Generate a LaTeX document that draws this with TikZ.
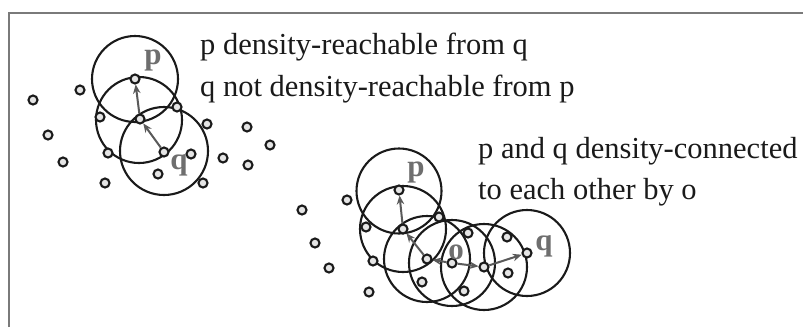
\documentclass[tikz,border=0pt]{standalone}
\usepackage{fontspec}
\setmainfont{Liberation Serif}
\usetikzlibrary{arrows.meta}
\definecolor{framegray}{HTML}{7A7A7A}
\definecolor{labgray}{HTML}{6E6E6E}
\definecolor{arrgray}{HTML}{5A5A5A}
\definecolor{ink}{HTML}{1A1A1A}
\begin{document}
\begin{tikzpicture}[x=1pt,y=-1pt,
  pt/.style={circle,draw=ink,line width=2.1pt,fill=white!80!gray,inner sep=0pt,minimum size=9pt},
  hood/.style={circle,draw=ink,line width=2.1pt,inner sep=0pt,minimum size=86pt},
  arr/.style={draw=arrgray,line width=2pt,-{Stealth[length=9pt,width=7.5pt]}},
  lab/.style={text=labgray,font=\fontsize{31}{36}\selectfont\bfseries,inner sep=0pt},
  txt/.style={font=\fontsize{30.5}{36}\selectfont,inner sep=0pt,anchor=base west,text=ink},
  frm/.style={draw=framegray,line width=2.2pt}]
\useasboundingbox (0,0) rectangle (803,327);
\fill[white] (0,0) rectangle (803,327);
\draw[frm] (9,327) -- (9,13) -- (803,13);
% left cluster neighbourhoods
\node[hood] (hLp) at (135,79) {};
\node[hood] (hLm) at (139,120) {};
\node[hood,minimum size=88pt] (hLq) at (164,151) {};
% left cluster points
\foreach \n/\x/\y in {L1/33/100,L2/80/90,Lp/135/79,L4/177/107,L5/100/117,Lm/140/119,L7/207/124,L8/247/127,L9/48/135,L10/270/145,L11/108/153,Lq/164/152,L13/191/154,L14/223/158,L15/248/165,L16/63/162,L17/158/174,L18/203/183,L19/105/183}
  \node[pt] (\n) at (\x,\y) {};
\draw[arr] (Lq) -- (Lm);
\draw[arr] (Lm) -- (Lp);
\node[lab] (labLp) at (153,60) {p};
\node[lab] (labLq) at (179,165) {q};
% right cluster neighbourhoods
\node[hood,minimum size=85pt] (hRp) at (399,191) {};
\node[hood] (hRc1) at (403,229) {};
\node[hood] (hRc2) at (427,259) {};
\node[hood] (hRo) at (452,263) {};
\node[hood] (hRc3) at (484,267) {};
\node[hood] (hRq) at (527,253) {};
% right cluster points
\foreach \n/\x/\y in {R1/302/210,R2/347/200,Rp/399/190,R4/315/243,R5/366/227,R6/439/217,Rc1/403/229,R8/329/268,R9/373/261,Rc2/427/259,Ro/452/263,R12/468/233,Rc3/484/267,R14/507/237,Rq/527/253,R16/508/273,R17/422/282,R18/464/291,R19/369/292}
  \node[pt] (\n) at (\x,\y) {};
\draw[arr] (Rc1) -- (Rp);
\draw[arr] (Rc2) -- (Rc1);
\draw[arr] (Ro) -- (Rc2);
\draw[arr] (Ro) -- (Rc3);
\draw[arr] (Rc3) -- (Rq);
\node[lab] (labRp) at (416,172) {p};
\node[lab] (labRo) at (456,252) {o};
\node[lab] (labRq) at (544,246) {q};
% texts
\node[txt] (t1) at (200,54) {p density-reachable from q};
\node[txt] (t2) at (200,96) {q not density-reachable from p};
\node[txt] (t3) at (478,158) {p and q density-connected};
\node[txt] (t4) at (478,199) {to each other by o};
\end{tikzpicture}
\end{document}
